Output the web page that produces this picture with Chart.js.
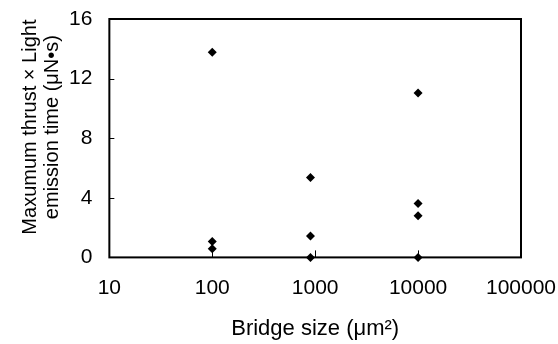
<!DOCTYPE html>
<html>
<head>
<meta charset="utf-8">
<script src="https://cdn.jsdelivr.net/npm/chart.js"></script>
<style>
  html, body { margin: 0; padding: 0; background: #fff; }
  #wrap { width: 558px; height: 344px; }
</style>
</head>
<body>
<div id="wrap"><canvas id="chart"></canvas></div>
<script>
const bridgeSizes = [100, 100, 100, 900, 900, 900, 10000, 10000, 10000, 10000];
const thrustTimes = [13.77, 1.07, 0.58, 5.37, 1.43, 0, 11.04, 3.61, 2.79, 0];
const xTickValues = [10, 100, 1000, 10000, 100000];
const yTickValues = [0, 4, 8, 12, 16];

const points = bridgeSizes.map((x, i) => ({ x: x, y: thrustTimes[i] }));
const fontFamily = 'Liberation Sans, Arial, sans-serif';

// frame round the plot area plus short inward tick marks
const framePlugin = {
  id: 'frame',
  beforeDatasetsDraw(chart) {
    const { ctx, chartArea: a, scales } = chart;
    ctx.save();
    ctx.strokeStyle = '#000';
    ctx.lineWidth = 1;
    ctx.beginPath();
    for (const v of yTickValues.slice(1, -1)) {
      const y = Math.round(scales.y.getPixelForValue(v)) + 0.5;
      ctx.moveTo(a.left, y);
      ctx.lineTo(a.left + 5, y);
    }
    for (const v of xTickValues.slice(1, -1)) {
      const x = Math.round(scales.x.getPixelForValue(v)) + 0.5;
      ctx.moveTo(x, a.bottom);
      ctx.lineTo(x, a.bottom - 7);
    }
    ctx.stroke();
    ctx.lineWidth = 2;
    ctx.strokeRect(a.left, a.top, a.right - a.left, a.bottom - a.top);
    ctx.restore();
  }
};

new Chart(document.getElementById('chart'), {
  type: 'scatter',
  data: {
    datasets: [{
      data: points,
      pointStyle: 'rectRot',
      pointRadius: 4.5,
      backgroundColor: '#000',
      borderColor: '#000',
      borderWidth: 0,
      clip: false
    }]
  },
  options: {
    responsive: true,
    maintainAspectRatio: false,
    animation: false,
    layout: { padding: { top: 19, right: 37, left: 19, bottom: 2 } },
    plugins: { legend: { display: false }, tooltip: { enabled: false } },
    scales: {
      x: {
        type: 'logarithmic',
        min: 10,
        max: 100000,
        afterBuildTicks(scale) {
          scale.ticks = xTickValues.map(v => ({ value: v }));
        },
        afterFit(scale) {
          scale.paddingLeft = 0;
          scale.paddingRight = 0;
        },
        grid: { display: false, drawTicks: false },
        border: { display: false },
        ticks: {
          color: '#000',
          font: { family: fontFamily, size: 21 },
          padding: 18.5,
          maxRotation: 0,
          autoSkip: false,
          callback: v => String(v)
        },
        title: {
          display: true,
          text: 'Bridge size (μm²)',
          color: '#000',
          font: { family: fontFamily, size: 22 },
          padding: { top: -4, bottom: 0 }
        }
      },
      y: {
        min: 0,
        max: 16,
        afterBuildTicks(scale) {
          scale.ticks = yTickValues.map(v => ({ value: v }));
        },
        afterFit(scale) {
          scale.paddingTop = 0;
          scale.paddingBottom = 0;
        },
        grid: { display: false, drawTicks: false },
        border: { display: false },
        ticks: {
          color: '#000',
          font: { family: fontFamily, size: 21 },
          padding: 17
        },
        title: {
          display: true,
          text: ['    Maxumum thrust × Light', '    emission time (μN•s)'],
          color: '#000',
          font: { family: fontFamily, size: 20, lineHeight: 1.1 },
          padding: { top: 0, bottom: -11 }
        }
      }
    }
  },
  plugins: [framePlugin]
});
</script>
</body>
</html>
